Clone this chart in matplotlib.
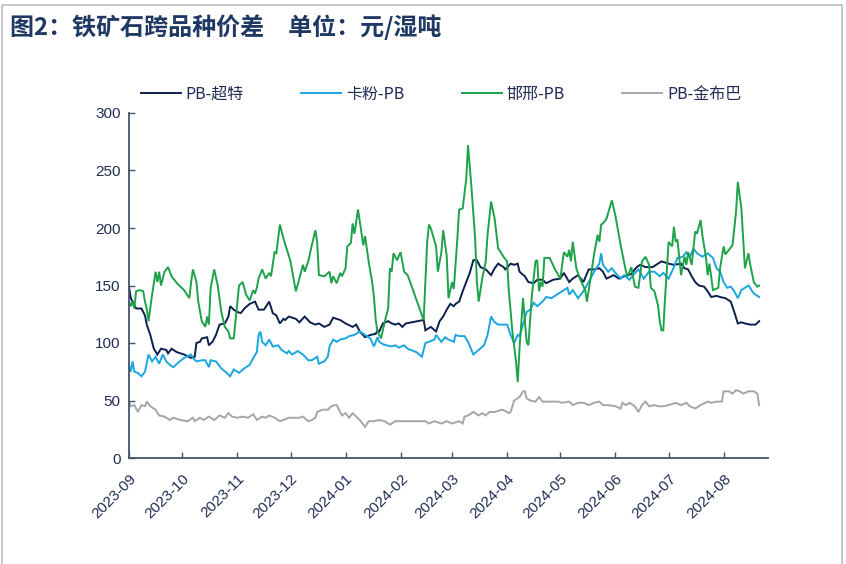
import matplotlib
matplotlib.use('Agg')
import matplotlib.pyplot as plt
import pandas as pd
from matplotlib.patches import Rectangle

plt.rcParams['font.family'] = ['Liberation Sans', 'Noto Sans CJK SC', 'DejaVu Sans']

START = '2023-09-01'

series_names = ['PB-超特', '卡粉-PB', '邯邢-PB', 'PB-金布巴']

# days since START, values (元/湿吨)
pb_chaote_day = [0, 1, 4, 7, 9, 10, 12, 14, 16, 18, 21, 22, 24, 27, 31, 35, 37, 38, 40, 41, 44, 45, 47, 49, 51, 54,
                 56, 57, 59, 61, 63, 65, 68, 71, 73, 76, 79, 81, 83, 85, 87, 88, 90, 94, 96, 99, 102, 105, 107, 110,
                 113, 115, 119, 122, 126, 128, 130, 133, 136, 139, 140, 141, 143, 146, 148, 150, 152, 154, 156, 166,
                 167, 170, 173, 175, 177, 179, 181, 183, 184, 186, 188, 190, 192, 194, 196, 198, 201, 204, 206, 208,
                 211, 212, 215, 217, 219, 220, 223, 225, 228, 230, 233, 235, 239, 243, 245, 248, 250, 253, 256, 259,
                 262, 265, 267, 269, 273, 276, 279, 283, 286, 288, 291, 295, 298, 300, 304, 307, 311, 313, 315, 317,
                 319, 321, 324, 326, 328, 331, 333, 336, 339, 341, 343, 345, 347, 350, 353, 355]
pb_chaote_val = [149, 139, 130, 130, 124, 116, 107, 95, 90, 95, 94, 91, 95, 92, 90, 87, 88, 100, 101, 104, 105, 98, 101,
                 107, 116, 117, 123, 132, 129, 127, 126, 130, 134, 136, 129, 129, 136, 126, 124, 117, 121, 120, 123,
                 121, 118, 123, 118, 116, 117, 114, 116, 122, 120, 117, 114, 116, 110, 105, 107, 108, 111, 110, 117,
                 119, 117, 116, 117, 114, 117, 120, 111, 114, 110, 119, 123, 129, 134, 132, 134, 136, 145, 153, 161,
                 172, 172, 166, 164, 159, 165, 169, 166, 164, 169, 168, 169, 162, 158, 153, 152, 155, 155, 152, 155,
                 156, 161, 153, 156, 159, 153, 164, 164, 165, 162, 156, 159, 156, 158, 160, 166, 168, 166, 166, 169,
                 171, 169, 168, 169, 165, 164, 158, 153, 150, 149, 145, 140, 141, 140, 139, 136, 127, 117, 118, 117,
                 116, 116, 119]

kafen_day = [0, 1, 2, 3, 5, 7, 9, 11, 13, 15, 17, 19, 21, 23, 25, 27, 31, 35, 36, 38, 41, 43, 45, 46, 49, 52, 55, 57,
             59, 62, 65, 68, 70, 72, 73, 74, 75, 77, 79, 81, 84, 86, 89, 90, 92, 95, 98, 101, 103, 106, 107, 110, 112,
             113, 115, 117, 119, 122, 124, 127, 130, 133, 136, 138, 140, 141, 143, 145, 148, 150, 152, 155, 157, 162,
             165, 167, 169, 172, 173, 176, 178, 180, 183, 184, 186, 189, 191, 194, 197, 200, 202, 204, 206, 208, 211,
             213, 215, 217, 219, 220, 222, 224, 226, 228, 230, 233, 235, 238, 241, 244, 247, 248, 250, 253, 256, 259,
             262, 265, 266, 267, 270, 272, 274, 277, 279, 282, 284, 287, 290, 293, 296, 299, 301, 304, 307, 309, 312,
             314, 316, 318, 320, 323, 326, 329, 331, 333, 335, 337, 339, 341, 343, 345, 347, 349, 352, 355]
kafen_val = [81, 75, 84, 75, 74, 71, 75, 90, 84, 88, 82, 90, 84, 81, 79, 82, 87, 90, 87, 84, 85, 85, 79, 85, 84, 78,
             74, 71, 77, 74, 78, 81, 87, 92, 107, 110, 101, 98, 103, 97, 98, 94, 91, 93, 90, 93, 90, 85, 85, 88, 82,
             84, 88, 97, 103, 101, 103, 104, 106, 107, 110, 107, 104, 97, 105, 101, 99, 98, 97, 98, 96, 98, 95, 92,
             88, 100, 101, 103, 107, 101, 105, 103, 101, 107, 106, 106, 101, 90, 94, 98, 107, 123, 118, 116, 116,
             116, 107, 100, 107, 106, 116, 127, 129, 135, 132, 136, 140, 139, 142, 145, 148, 142, 146, 139, 145, 153,
             162, 169, 178, 168, 162, 165, 161, 156, 159, 155, 159, 164, 156, 162, 162, 158, 161, 156, 166, 174, 175,
             179, 175, 182, 178, 175, 178, 174, 165, 162, 153, 148, 149, 145, 139, 146, 148, 150, 143, 140]

hanxing_day = [0, 1, 2, 3, 4, 6, 8, 9, 10, 11, 13, 15, 16, 17, 18, 20, 22, 24, 27, 31, 34, 35, 36, 38, 39, 41, 43, 44,
               45, 46, 48, 50, 52, 54, 56, 57, 59, 60, 62, 64, 66, 68, 70, 71, 72, 73, 75, 77, 79, 80, 82, 83, 85,
               87, 89, 91, 92, 94, 96, 98, 99, 101, 103, 105, 106, 107, 110, 113, 114, 115, 117, 119, 120, 122, 123,
               125, 126, 127, 129, 130, 132, 133, 135, 137, 138, 139, 140, 142, 144, 146, 147, 148, 149, 151, 153,
               155, 157, 166, 168, 169, 170, 173, 174, 176, 177, 179, 180, 182, 183, 185, 186, 188, 190, 191, 193,
               195, 196, 197, 199, 201, 202, 204, 206, 208, 209, 211, 213, 214, 216, 218, 219, 220, 222, 224, 225,
               227, 229, 230, 231, 232, 233, 234, 237, 240, 243, 245, 247, 248, 249, 250, 252, 254, 257, 258, 260,
               262, 264, 265, 266, 267, 269, 272, 274, 277, 280, 281, 283, 285, 287, 289, 291, 293, 294, 296, 298,
               299, 300, 301, 302, 304, 306, 307, 308, 309, 310, 311, 313, 314, 315, 317, 319, 320, 322, 323, 325,
               326, 327, 329, 332, 333, 335, 336, 338, 340, 342, 343, 345, 346, 347, 349, 350, 352, 354, 355]
hanxing_val = [136, 132, 136, 130, 145, 146, 145, 136, 130, 119, 142, 162, 153, 162, 150, 162, 166, 158, 152, 146, 139,
               153, 164, 153, 136, 119, 114, 123, 116, 148, 164, 150, 127, 114, 110, 104, 104, 119, 150, 153, 142,
               137, 146, 143, 148, 156, 164, 156, 161, 158, 179, 178, 203, 191, 181, 171, 162, 145, 156, 168, 162,
               171, 185, 198, 188, 159, 158, 162, 152, 158, 152, 161, 158, 165, 184, 187, 204, 195, 216, 206, 185,
               193, 171, 153, 140, 120, 110, 104, 118, 130, 165, 162, 178, 172, 179, 162, 159, 120, 188, 203, 200,
               184, 162, 179, 198, 176, 139, 153, 147, 191, 216, 217, 243, 272, 234, 191, 153, 136, 156, 171, 194,
               223, 208, 182, 180, 175, 171, 145, 110, 84, 66, 95, 139, 101, 98, 142, 171, 172, 145, 153, 149, 174,
               174, 164, 156, 179, 175, 181, 171, 188, 165, 156, 146, 136, 156, 177, 194, 188, 203, 204, 208, 224,
               211, 185, 162, 158, 166, 149, 148, 171, 175, 168, 148, 145, 133, 119, 111, 111, 139, 188, 184, 201,
               188, 190, 174, 159, 175, 168, 179, 168, 197, 195, 207, 194, 175, 159, 169, 146, 148, 165, 184, 177,
               181, 185, 214, 240, 217, 191, 165, 178, 168, 153, 149, 150]

jinbuba_day = [0, 1, 3, 5, 7, 9, 10, 12, 15, 17, 20, 23, 25, 29, 33, 36, 37, 40, 42, 45, 48, 51, 54, 56, 58, 61, 64,
               67, 70, 72, 75, 77, 79, 82, 85, 87, 90, 93, 96, 98, 101, 103, 105, 106, 109, 112, 114, 116, 117, 119,
               120, 122, 124, 126, 128, 130, 133, 135, 138, 141, 144, 147, 150, 153, 157, 163, 167, 169, 172, 176,
               179, 182, 186, 188, 189, 191, 194, 197, 199, 201, 203, 206, 210, 212, 214, 215, 217, 219, 220, 222,
               223, 224, 226, 229, 231, 233, 237, 242, 244, 248, 250, 253, 256, 259, 262, 265, 267, 270, 274, 277,
               278, 280, 282, 285, 287, 289, 291, 293, 296, 298, 301, 304, 308, 311, 314, 316, 319, 322, 326, 328,
               331, 334, 335, 338, 340, 342, 344, 346, 349, 352, 354, 355]
jinbuba_val = [49, 45, 46, 40, 46, 45, 49, 45, 42, 37, 36, 33, 35, 33, 32, 35, 32, 35, 33, 36, 33, 37, 35, 39, 36, 35,
               36, 35, 38, 33, 36, 35, 37, 35, 32, 33, 35, 35, 35, 36, 32, 33, 35, 40, 42, 42, 45, 46, 46, 40, 37, 39,
               35, 39, 36, 33, 27, 32, 32, 33, 32, 29, 32, 32, 32, 32, 32, 30, 32, 30, 32, 30, 32, 30, 36, 37, 40, 37,
               39, 37, 40, 40, 42, 41, 39, 40, 50, 52, 53, 58, 58, 52, 50, 49, 53, 49, 49, 49, 48, 49, 46, 48, 48, 46,
               48, 49, 46, 46, 45, 43, 48, 46, 48, 45, 40, 46, 49, 45, 46, 45, 45, 46, 48, 46, 48, 45, 43, 46, 49, 48,
               49, 49, 58, 58, 56, 59, 58, 56, 58, 58, 56, 46]

colors = ['#0D1F4E', '#1AA6DF', '#1DA24A', '#A6A6A6']
y_ticks = [0, 50, 100, 150, 200, 250, 300]
x_tick_labels = ['2023-09', '2023-10', '2023-11', '2023-12', '2024-01', '2024-02',
                 '2024-03', '2024-04', '2024-05', '2024-06', '2024-07', '2024-08']
title = '图2：铁矿石跨品种价差\u3000单位：元/湿吨'

TXT = '#1F2D55'


def to_dates(days):
    return pd.Timestamp(START) + pd.to_timedelta(days, unit='D')


fig = plt.figure(figsize=(8.46, 5.64), dpi=100)
fig.patches.append(Rectangle((2 / 846, -0.05), 840 / 846, 1.05 - 5 / 564, transform=fig.transFigure,
                             fill=False, edgecolor='#BFBFBF', linewidth=1.2))
ax = fig.add_axes([129 / 846, 1 - 458 / 564, (768 - 129) / 846, (458 - 113) / 564])

data = [(pb_chaote_day, pb_chaote_val), (kafen_day, kafen_val), (hanxing_day, hanxing_val),
        (jinbuba_day, jinbuba_val)]
for (d, v), name, c in zip(data, series_names, colors):
    ax.plot(to_dates(d), v, color=c, lw=1.4, label=name, solid_joinstyle='miter')

ax.set_ylim(0, 300)
ax.set_yticks(y_ticks)
ax.set_xlim(pd.Timestamp(START), pd.Timestamp('2024-08-26'))
ticks = pd.to_datetime([s + '-01' for s in x_tick_labels])
ax.set_xticks(ticks)
ax.set_xticklabels(x_tick_labels, rotation=45, ha='right', va='top', rotation_mode='anchor')

for s in ['top', 'right']:
    ax.spines[s].set_visible(False)
for s in ['left', 'bottom']:
    ax.spines[s].set_color('#44546A')
    ax.spines[s].set_linewidth(1.3)
ax.tick_params(axis='both', direction='in', length=4, width=1, color='#44546A', labelcolor=TXT, labelsize=11)
ax.tick_params(axis='x', pad=10)
ax.tick_params(axis='y', pad=6)

leg = fig.legend(loc='center', bbox_to_anchor=(441 / 846, 1 - 94 / 564), ncol=4, frameon=False,
                 fontsize=11.5, handlelength=2.5, columnspacing=3.6, handletextpad=0.3)
for t in leg.get_texts():
    t.set_color(TXT)
    t.set_family(['Liberation Sans Narrow', 'Noto Sans CJK SC'])

fig.text(10 / 846, 1 - 27 / 564, title, fontsize=17.3, fontweight='bold', color='#1F3864',
         family=['Noto Sans CJK SC', 'DejaVu Sans'], va='center', ha='left')

fig.savefig('out.png', dpi=100)
